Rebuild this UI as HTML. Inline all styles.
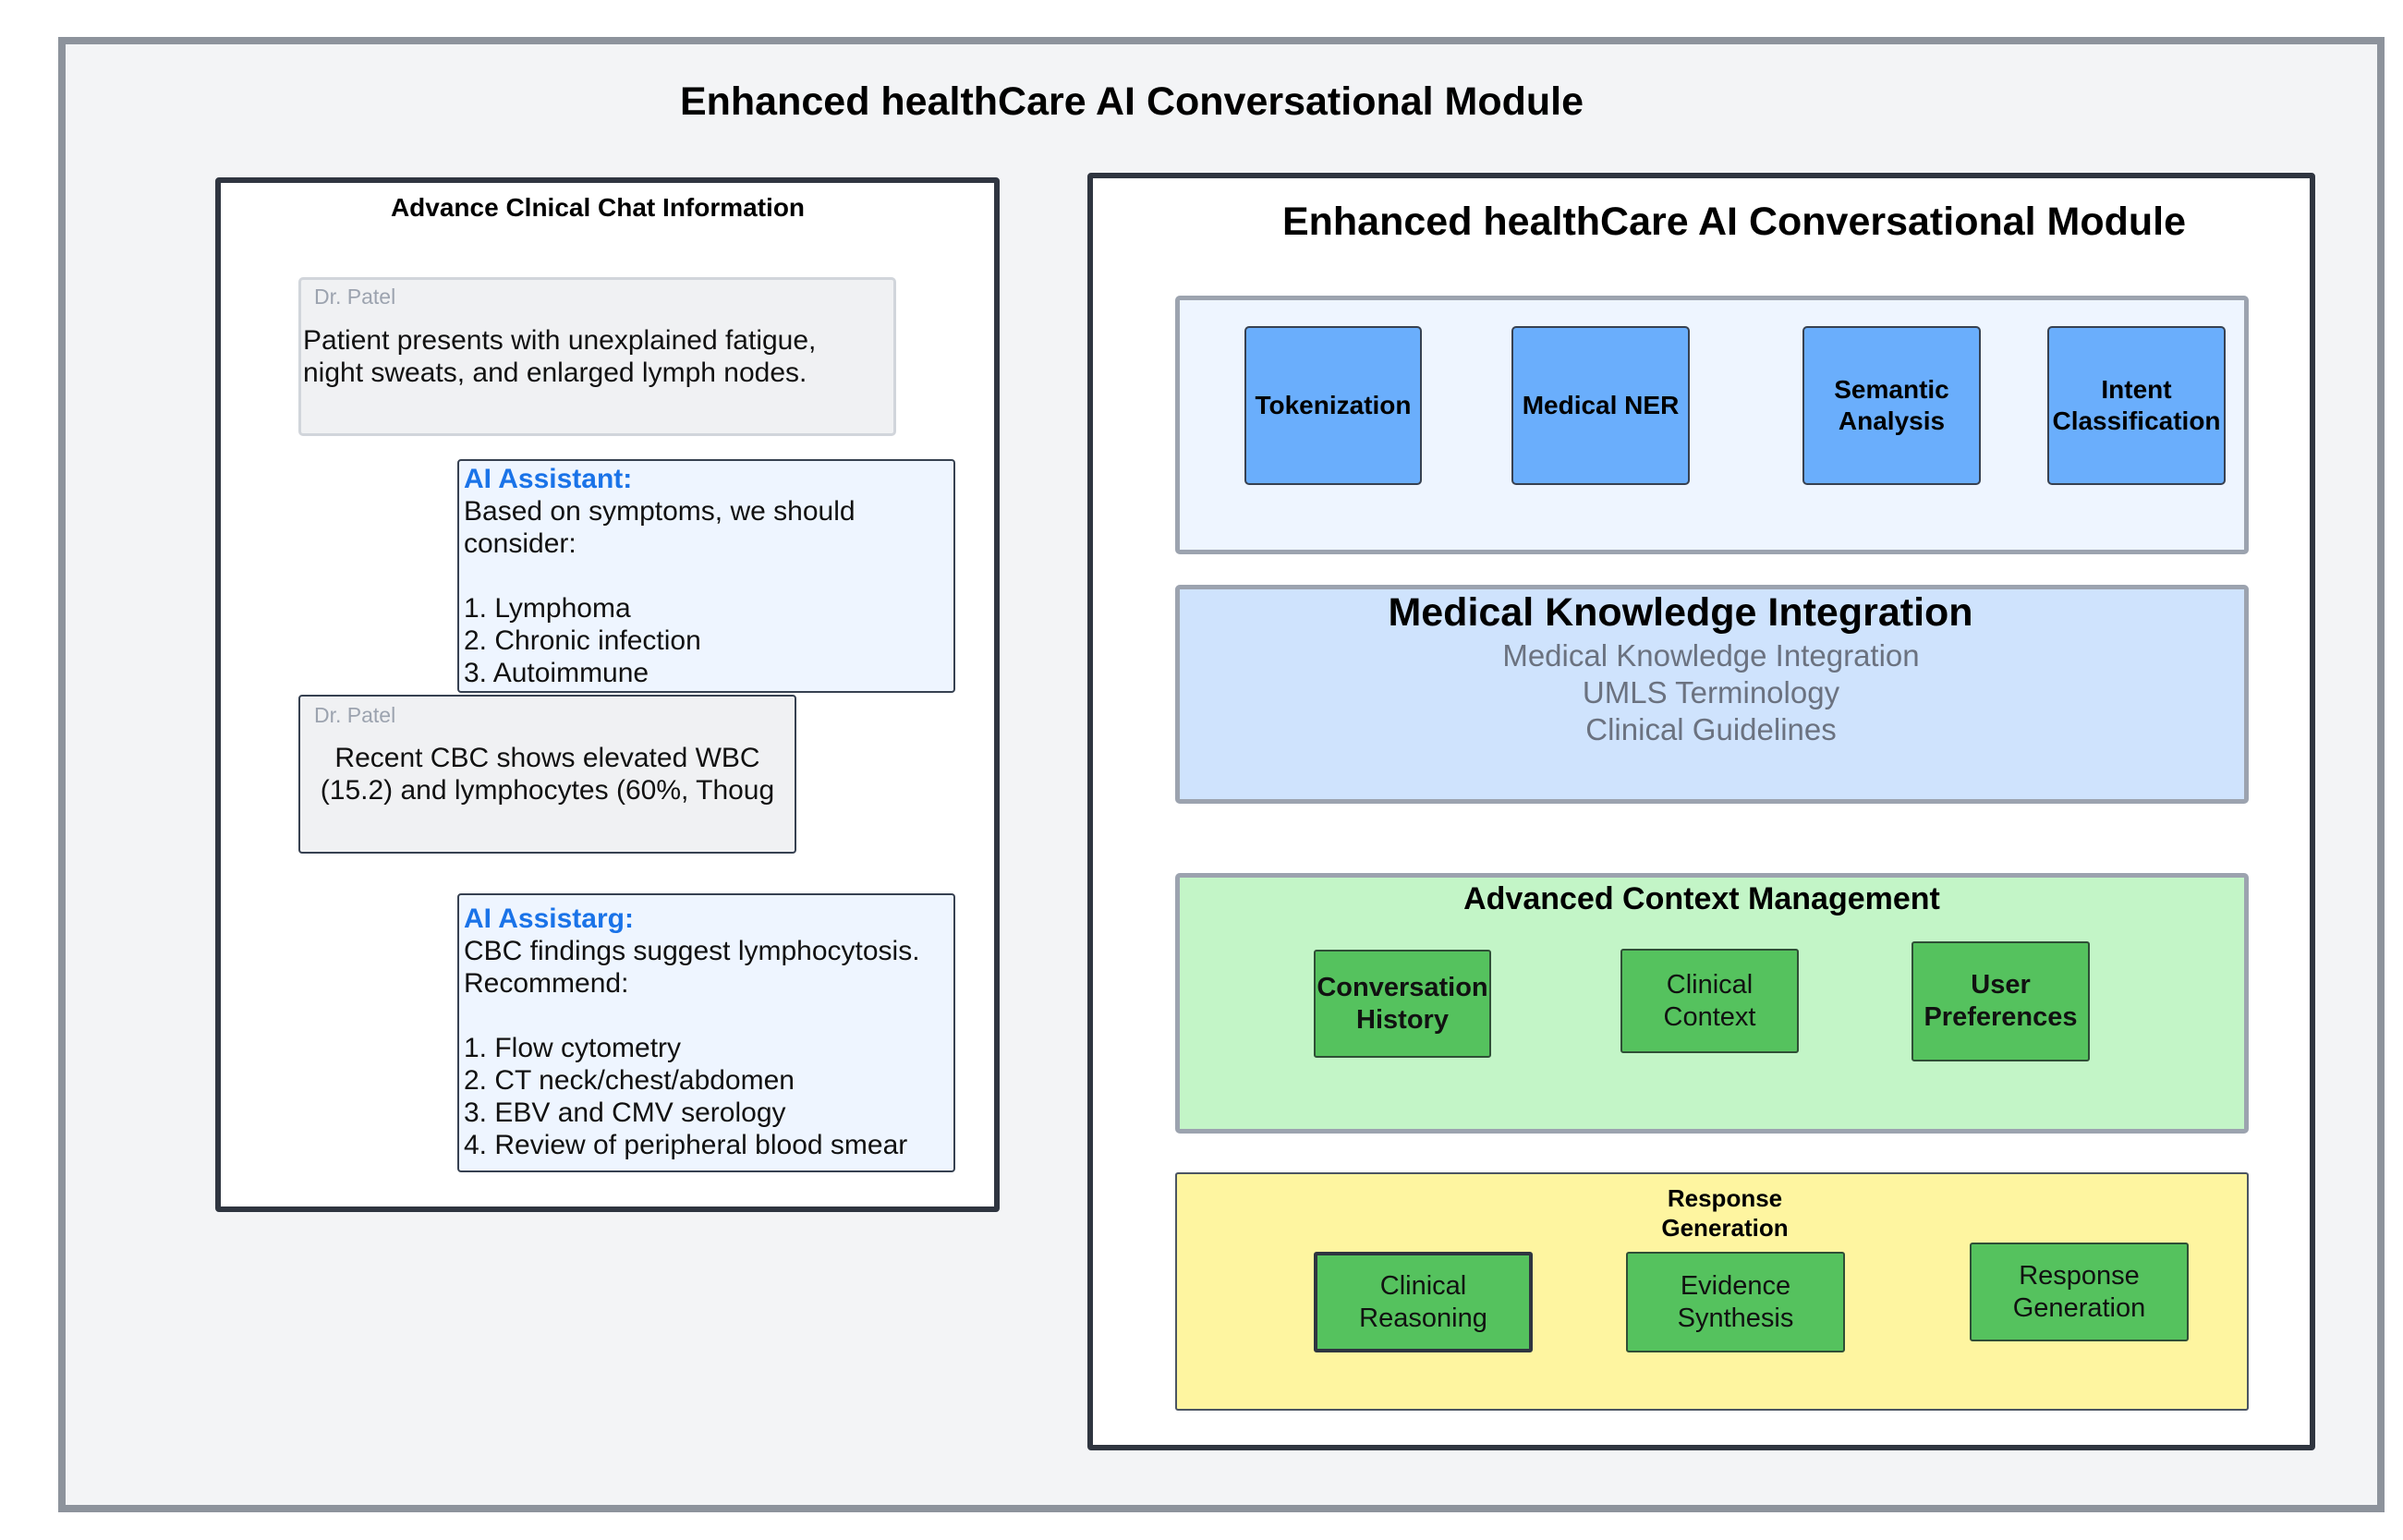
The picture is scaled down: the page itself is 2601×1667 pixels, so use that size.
<!DOCTYPE html>
<html><head><meta charset="utf-8"><style>
*{margin:0;padding:0;box-sizing:border-box}
body{width:2601px;height:1667px;background:#fff;font-family:"Liberation Sans",Arial,sans-serif;position:relative;overflow:hidden}
.a{position:absolute}
.c{display:flex;align-items:center;justify-content:center;text-align:center}
.t{white-space:nowrap}
.blue{background:#6aaefc;border:2px solid #374151;border-radius:5px;font-weight:bold;font-size:28px;line-height:34px;color:#000}
.grn{background:#55c25e;border:2px solid #2f4f36;border-radius:3px;font-size:29px;line-height:35px;color:#111}
.msg{font-size:30px;line-height:35px;color:#111}
</style></head><body>
<div class="a" style="left:63px;top:40px;width:2518px;height:1597px;background:#f3f4f6;border:8px solid #8d939c"></div>
<div class="a t" style="left:0;width:2450px;top:86px;text-align:center;font-size:43px;font-weight:bold">Enhanced healthCare AI Conversational Module</div>

<div class="a" style="left:233px;top:192px;width:849px;height:1120px;background:#fff;border:6px solid #2f3540;border-radius:4px"></div>
<div class="a t" style="left:233px;width:828px;top:209px;text-align:center;font-size:28px;font-weight:bold">Advance Clnical Chat Information</div>

<div class="a" style="left:323px;top:300px;width:647px;height:172px;background:#f0f1f3;border:3px solid #d1d5db;border-radius:5px"></div>
<div class="a t" style="left:340px;top:308px;font-size:23px;color:#9ca3af">Dr. Patel</div>
<div class="a t msg" style="left:328px;top:351px">Patient presents with unexplained fatigue,<br>night sweats, and enlarged lymph nodes.</div>

<div class="a" style="left:495px;top:497px;width:539px;height:253px;background:#eef5ff;border:2px solid #374151;border-radius:4px"></div>
<div class="a t msg" style="left:502px;top:501px"><span style="color:#1a73e8;font-weight:bold">AI Assistant:</span><br>Based on symptoms, we should<br>consider:<br><br>1. Lymphoma<br>2. Chronic infection<br>3. Autoimmune</div>

<div class="a" style="left:323px;top:752px;width:539px;height:172px;background:#f0f1f3;border:2px solid #374151;border-radius:4px"></div>
<div class="a t" style="left:340px;top:761px;font-size:23px;color:#9ca3af">Dr. Patel</div>
<div class="a t msg" style="left:323px;width:539px;top:803px;text-align:center">Recent CBC shows elevated WBC<br>(15.2) and lymphocytes (60%, Thoug</div>

<div class="a" style="left:495px;top:967px;width:539px;height:302px;background:#eef5ff;border:2px solid #374151;border-radius:4px"></div>
<div class="a t msg" style="left:502px;top:977px"><span style="color:#1a73e8;font-weight:bold">AI Assistarg:</span><br>CBC findings suggest lymphocytosis.<br>Recommend:<br><br>1. Flow cytometry<br>2. CT neck/chest/abdomen<br>3. EBV and CMV serology<br>4. Review of peripheral blood smear</div>

<div class="a" style="left:1177px;top:187px;width:1329px;height:1383px;background:#fff;border:6px solid #2f3540;border-radius:4px"></div>
<div class="a t" style="left:1177px;width:1400px;top:216px;text-align:center;font-size:43px;font-weight:bold">Enhanced healthCare AI Conversational Module</div>

<div class="a" style="left:1272px;top:320px;width:1162px;height:280px;background:#eef5ff;border:5px solid #9ca3af;border-radius:5px"></div>
<div class="a c blue" style="left:1347px;top:353px;width:192px;height:172px">Tokenization</div>
<div class="a c blue" style="left:1636px;top:353px;width:193px;height:172px">Medical NER</div>
<div class="a c blue" style="left:1951px;top:353px;width:193px;height:172px">Semantic<br>Analysis</div>
<div class="a c blue" style="left:2216px;top:353px;width:193px;height:172px">Intent<br>Classification</div>

<div class="a" style="left:1272px;top:633px;width:1162px;height:237px;background:#cfe3fd;border:5px solid #9ca3af;border-radius:5px"></div>
<div class="a t" style="left:1272px;width:1094px;top:639px;text-align:center;font-size:43px;font-weight:bold">Medical Knowledge Integration</div>
<div class="a t" style="left:1272px;width:1160px;top:690px;text-align:center;font-size:33px;line-height:40px;color:#6b7280">Medical Knowledge Integration<br>UMLS Terminology<br>Clinical Guidelines</div>

<div class="a" style="left:1272px;top:945px;width:1162px;height:282px;background:#c3f5c7;border:5px solid #9ca3af;border-radius:5px"></div>
<div class="a t" style="left:1272px;width:1140px;top:954px;text-align:center;font-size:34px;font-weight:bold">Advanced Context Management</div>
<div class="a c grn" style="left:1422px;top:1028px;width:192px;height:117px;font-weight:bold">Conversation<br>History</div>
<div class="a c grn" style="left:1754px;top:1027px;width:193px;height:113px">Clinical<br>Context</div>
<div class="a c grn" style="left:2069px;top:1019px;width:193px;height:130px;font-weight:bold">User<br>Preferences</div>

<div class="a" style="left:1272px;top:1269px;width:1162px;height:258px;background:#fef5a0;border:2px solid #4b5563;border-radius:3px"></div>
<div class="a t" style="left:1272px;width:1190px;top:1281px;text-align:center;font-size:26px;line-height:32px;font-weight:bold">Response<br>Generation</div>
<div class="a c grn" style="left:1422px;top:1355px;width:237px;height:109px;border:4px solid #2f3540">Clinical<br>Reasoning</div>
<div class="a c grn" style="left:1760px;top:1355px;width:237px;height:109px">Evidence<br>Synthesis</div>
<div class="a c grn" style="left:2132px;top:1345px;width:237px;height:107px">Response<br>Generation</div>
</body></html>
